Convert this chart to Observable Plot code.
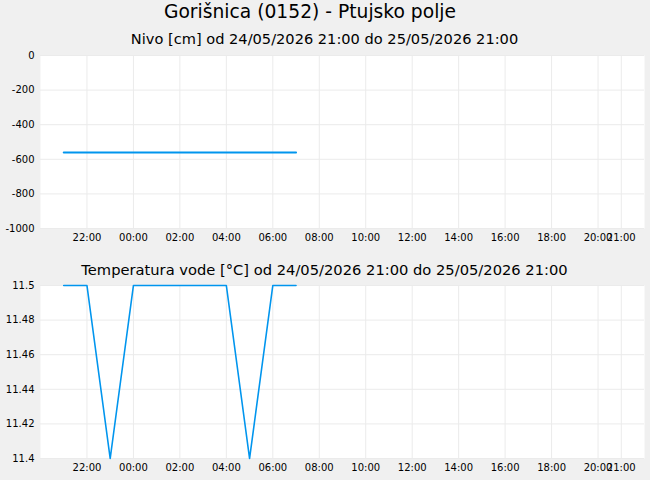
<!DOCTYPE html>
<html>
<head>
<meta charset="utf-8">
<script src="https://cdn.jsdelivr.net/npm/d3@7"></script>
<script src="https://cdn.jsdelivr.net/npm/@observablehq/plot@0.6"></script>
<style>
  html, body { margin: 0; padding: 0; background: #f0f0f0; }
  #wrap { position: relative; width: 650px; height: 480px; background: #f0f0f0; font-family: "DejaVu Sans", sans-serif; overflow: hidden; }
  .t { position: absolute; left: 0; text-align: center; color: #000; white-space: nowrap; }
  .p { position: absolute; left: 0; }
</style>
</head>
<body>
<div id="wrap">
  <div class="t" id="title" style="top:1px;width:620px;font-size:18.7px;">Gorišnica (0152) - Ptujsko polje</div>
  <div class="t" id="sub1" style="top:30px;width:649px;font-size:14.6px;">Nivo [cm] od 24/05/2026 21:00 do 25/05/2026 21:00</div>
  <div class="p" id="plot1" style="top:50px;"></div>
  <div class="t" id="sub2" style="top:261px;width:649px;font-size:14.7px;">Temperatura vode [°C] od 24/05/2026 21:00 do 25/05/2026 21:00</div>
  <div class="p" id="plot2" style="top:280px;"></div>
</div>
<script>
// ---- data ----
const times = [
  "2026-05-24T21:00Z", "2026-05-24T22:00Z", "2026-05-24T23:00Z", "2026-05-25T00:00Z",
  "2026-05-25T01:00Z", "2026-05-25T02:00Z", "2026-05-25T03:00Z", "2026-05-25T04:00Z",
  "2026-05-25T05:00Z", "2026-05-25T06:00Z", "2026-05-25T07:00Z"
];
const levelValues = [-560, -560, -560, -560, -560, -560, -560, -560, -560, -560, -560];
const tempValues = [11.5, 11.5, 11.4, 11.5, 11.5, 11.5, 11.5, 11.5, 11.4, 11.5, 11.5];

const xDomain = ["2026-05-24T20:00Z", "2026-05-25T22:00Z"];
const xTicks = [
  "2026-05-24T22:00Z", "2026-05-25T00:00Z", "2026-05-25T02:00Z", "2026-05-25T04:00Z",
  "2026-05-25T06:00Z", "2026-05-25T08:00Z", "2026-05-25T10:00Z", "2026-05-25T12:00Z",
  "2026-05-25T14:00Z", "2026-05-25T16:00Z", "2026-05-25T18:00Z", "2026-05-25T20:00Z",
  "2026-05-25T21:00Z"
];
const levelTicks = [0, -200, -400, -600, -800, -1000];
const levelDomain = [-1000, 0];
const tempTicks = [11.4, 11.42, 11.44, 11.46, 11.48, 11.5];
const tempDomain = [11.4, 11.5];

const lineColor = "#0095ee";
const gridColor = "#ebebeb";

const levelData = times.map((t, i) => ({t: new Date(t), v: levelValues[i]}));
const tempData = times.map((t, i) => ({t: new Date(t), v: tempValues[i]}));
const xT = xTicks.map(d => new Date(d));
const fmtTime = d3.utcFormat("%H:%M");

function makePlot(data, yDomain, yTicks, yFmt, sw) {
  return Plot.plot({
    width: 650,
    height: 200,
    marginTop: 5,
    marginLeft: 40,
    marginRight: 6,
    marginBottom: 22,
    style: {background: "none", fontFamily: "DejaVu Sans, sans-serif", fontSize: "10px", color: "#000", overflow: "visible"},
    x: {type: "utc", domain: xDomain.map(d => new Date(d))},
    y: {domain: yDomain},
    marks: [
      Plot.frame({fill: "white", stroke: null}),
      Plot.gridX(xT, {stroke: gridColor, strokeOpacity: 1, strokeWidth: 1}),
      Plot.gridY(yTicks, {stroke: gridColor, strokeOpacity: 1, strokeWidth: 1}),
      Plot.axisX(xT, {tickSize: 0, tickPadding: 5, tickFormat: fmtTime, label: null, fill: "#000"}),
      Plot.axisY(yTicks, {tickSize: 0, tickPadding: 6, tickFormat: yFmt, label: null, fill: "#000"}),
      Plot.line(data, {x: "t", y: "v", stroke: lineColor, strokeWidth: sw, clip: false})
    ]
  });
}

document.getElementById("plot1").appendChild(makePlot(levelData, levelDomain, levelTicks, d => String(d), 2));
document.getElementById("plot2").appendChild(makePlot(tempData, tempDomain, tempTicks, d => String(+d.toFixed(2)), 1.6));
</script>
</body>
</html>
